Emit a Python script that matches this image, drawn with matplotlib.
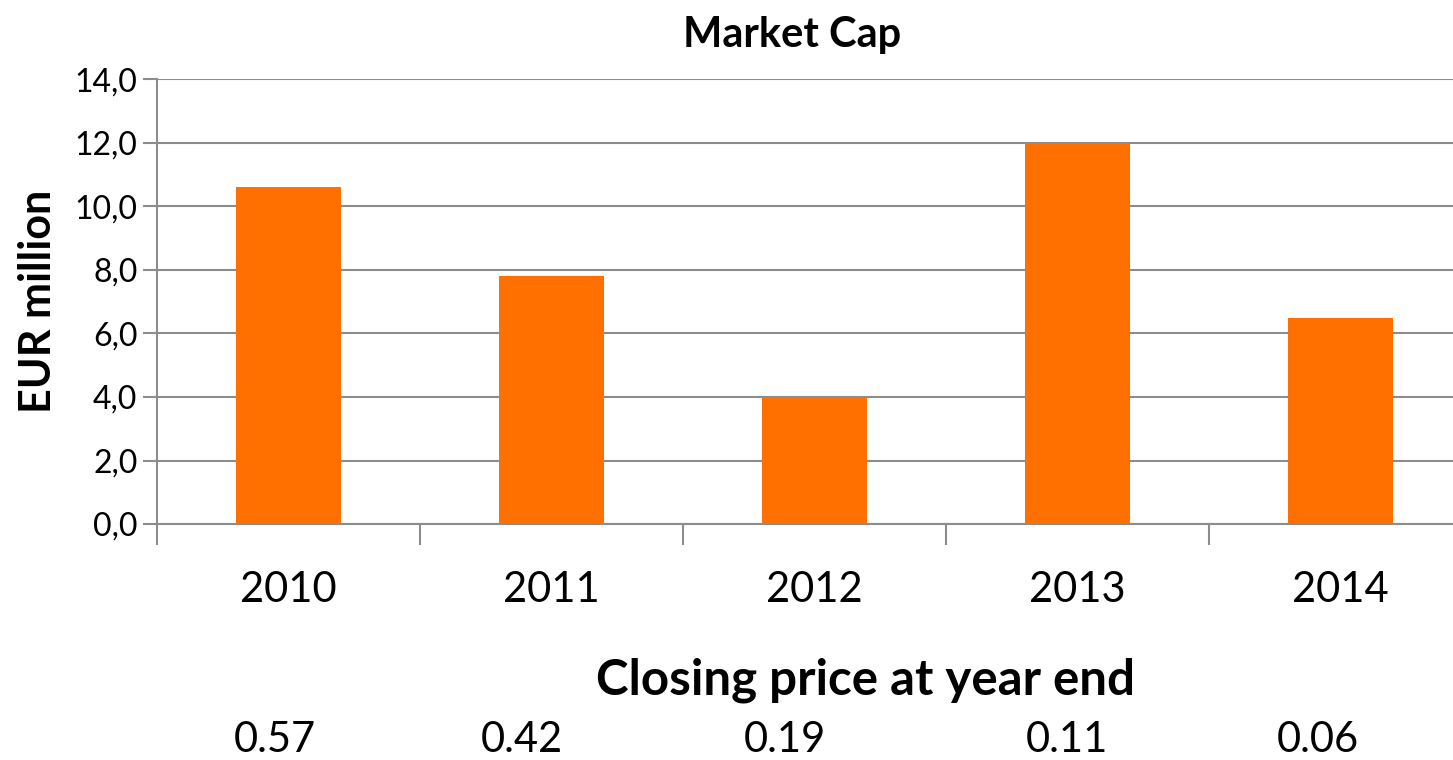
import matplotlib
matplotlib.use("Agg")
import matplotlib.pyplot as plt
from matplotlib.ticker import FixedLocator, FuncFormatter

years = ["2010", "2011", "2012", "2013", "2014"]
market_cap = [10.6, 7.8, 4.0, 12.0, 6.5]
closing_price = ["0.57", "0.42", "0.19", "0.11", "0.06"]
yticks = [0, 2, 4, 6, 8, 10, 12, 14]

plt.rcParams['font.family'] = ['Lato', 'DejaVu Sans']

W, H = 1453, 760
fig = plt.figure(figsize=(W/100, H/100), dpi=100)
ax = fig.add_axes([157/W, (H-524)/H, (1472-157)/W, (524-79.5)/H])

grey = '#8c8c8c'
x = list(range(len(years)))
ax.bar(x, market_cap, width=0.4, color='#FF7000', zorder=3)
ax.set_xlim(-0.5, len(years)-0.5)
ax.set_ylim(0, 14)
ax.set_yticks(yticks)
ax.yaxis.set_major_formatter(FuncFormatter(lambda v, p: f"{v:.1f}".replace('.', ',')))
ax.grid(axis='y', color=grey, linewidth=1.5, zorder=0)
ax.set_axisbelow(True)

ax.xaxis.set_major_locator(FixedLocator([i - 0.5 for i in range(len(years)+1)]))
ax.xaxis.set_major_formatter(FuncFormatter(lambda v, p: ""))
ax.xaxis.set_minor_locator(FixedLocator(x))
ax.set_xticklabels(years, minor=True)
ax.tick_params(axis='x', which='major', length=15, width=1.5, color=grey, direction='out')
ax.tick_params(axis='x', which='minor', length=0, pad=34, labelsize=30)
ax.tick_params(axis='y', length=10, width=1.5, color=grey, labelsize=23, pad=4)

for s in ['top', 'right']:
    ax.spines[s].set_visible(False)
for s in ['left', 'bottom']:
    ax.spines[s].set_color(grey)
    ax.spines[s].set_linewidth(1.5)

ax.set_ylabel("EUR million", fontsize=31, fontweight='bold', labelpad=12)
fig.text(792/W, 1 - 35/H, "Market Cap", ha='center', va='center', fontsize=30, fontweight='bold')
fig.text(866/W, 1 - 680/H, "Closing price at year end", ha='center', va='center', fontsize=35.5, fontweight='bold')
price_x = [275, 522, 785, 1067, 1318]
for px, val in zip(price_x, closing_price):
    fig.text(px/W, 1 - 740/H, val, ha='center', va='center', fontsize=30)

fig.savefig("out.png", dpi=100)
